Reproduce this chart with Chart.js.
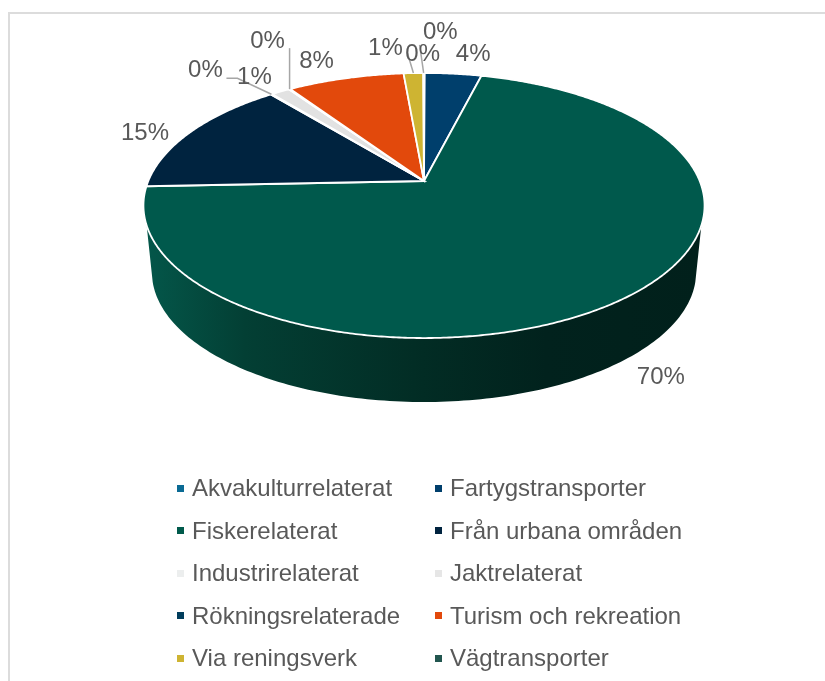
<!DOCTYPE html>
<html lang="sv">
<head>
<meta charset="utf-8">
<title>Diagram</title>
<script src="https://cdn.jsdelivr.net/npm/chart.js@4/dist/chart.umd.min.js"></script>
<style>
  html, body { margin: 0; padding: 0; background: #fff; overflow: hidden; }
  #wrap { position: relative; width: 825px; height: 681px; }
  #frame { position: absolute; left: 8px; top: 12px; width: 830px; height: 700px; border: 2px solid #dcdcdc; box-sizing: border-box; }
  canvas { position: absolute; left: 0; top: 0; }
  #legend { position: absolute; left: 177px; top: 467px; display: grid; grid-template-columns: 258px 250px; grid-auto-rows: 42.5px;
    font: 24px "Liberation Sans", Arial, sans-serif; color: #595959; }
  #legend div { display: flex; align-items: center; white-space: nowrap; }
  #legend i { display: inline-block; width: 7px; height: 7px; margin-right: 8px; }
</style>
</head>
<body>
<div id="wrap">
  <div id="frame"></div>
  <canvas id="myChart" width="825" height="681"></canvas>
  <div id="legend"></div>
</div>
<script>
const categories = [
  "Akvakulturrelaterat",
  "Fartygstransporter",
  "Fiskerelaterat",
  "Från urbana områden",
  "Industrirelaterat",
  "Jaktrelaterat",
  "Rökningsrelaterade",
  "Turism och rekreation",
  "Via reningsverk",
  "Vägtransporter"
];

const values = [0.05, 3.9, 70.4, 14.7, 0.1, 1.3, 0.1, 8.05, 1.35, 0.05];

const sliceColors = ["#0a6a94", "#003f6c", "#00594c", "#00233f", "#eceeee", "#e2e2e2", "#003d5c", "#e2490c", "#ceb432", "#22564f"];
const legendColors = ["#0a6a94", "#003f6c", "#005a4b", "#00233f", "#eceeee", "#e6e6e6", "#003d5c", "#e2490c", "#ceb432", "#22564f"];

// label position relative to the middle of the slice's rim
const labelOffsets = [[16, -41], [20, -19], [34, 80], [-45, 1], [-66, -24], [-26, -14], [-22, -48], [-29, -17], [-28, -25], [-1, -19]];
// leader lines, same reference point
const leaders = [null, null, null, null, [[-34, -16], [-45, -16]], null, [[0, -41]], null, [[-6, -20]], [[-4, -28]]];

// the pie is tilted with some perspective, so the far half looks shorter
const widthRatio = 2.154;
const tilt = 0.1849;
const wallTop = [109, 251];
const wallBottom = [105, 255];

function project(arc, deg) {
  const t = deg * Math.PI / 180;
  const u = Math.sin(t), v = Math.cos(t);
  const w = 1 + tilt * v;
  return {
    x: arc.x + arc.outerRadius * widthRatio * u / w,
    y: arc.y - arc.outerRadius * v / w
  };
}

function projectBottom(arc, deg) {
  const p = project(arc, deg);
  const midY = arc.y + arc.outerRadius * tilt / (1 - tilt * tilt);
  return {
    x: arc.x + (p.x - arc.x) * 0.97,
    y: midY + 66.5 + (p.y - midY) * 0.981
  };
}

const pie3d = {
  id: "pie3d",
  beforeDatasetDraw(chart, args) {
    const ctx = chart.ctx;
    const arcs = args.meta.data;
    const first = arcs[0];

    // front wall
    const grad = ctx.createLinearGradient(145, 0, 702, 0);
    grad.addColorStop(0, "#04574a");
    grad.addColorStop(0.18, "#033f34");
    grad.addColorStop(0.5, "#022c24");
    grad.addColorStop(0.72, "#01221d");
    grad.addColorStop(1, "#01201b");
    ctx.beginPath();
    for (let d = wallTop[0]; d <= wallTop[1]; d++) {
      const p = project(first, d);
      ctx.lineTo(p.x, p.y);
    }
    for (let d = wallBottom[1]; d >= wallBottom[0]; d--) {
      const p = projectBottom(first, d);
      ctx.lineTo(p.x, p.y);
    }
    ctx.closePath();
    ctx.fillStyle = grad;
    ctx.fill();

    // top face, angles come from the library's arcs
    arcs.forEach((arc) => {
      const from = arc.startAngle * 180 / Math.PI + 90;
      const to = arc.endAngle * 180 / Math.PI + 90;
      ctx.beginPath();
      ctx.moveTo(arc.x, arc.y);
      for (let d = from; d < to; d += 0.5) {
        const p = project(arc, d);
        ctx.lineTo(p.x, p.y);
      }
      const end = project(arc, to);
      ctx.lineTo(end.x, end.y);
      ctx.closePath();
      ctx.fillStyle = arc.options.backgroundColor;
      ctx.fill();
      ctx.strokeStyle = "#fff";
      ctx.lineWidth = 1.8;
      ctx.stroke();
    });

    // data labels and leaders
    ctx.font = '24px "Liberation Sans", Arial, sans-serif';
    ctx.textAlign = "center";
    ctx.textBaseline = "middle";
    arcs.forEach((arc, i) => {
      const mid = (arc.startAngle + arc.endAngle) / 2 * 180 / Math.PI + 90;
      const p = project(arc, mid);
      if (leaders[i]) {
        ctx.beginPath();
        ctx.moveTo(p.x, p.y);
        leaders[i].forEach((o) => ctx.lineTo(p.x + o[0], p.y + o[1]));
        ctx.strokeStyle = "#a6a6a6";
        ctx.lineWidth = 1.5;
        ctx.stroke();
      }
      ctx.fillStyle = "#595959";
      ctx.fillText(Math.round(values[i]) + "%", p.x + labelOffsets[i][0], p.y + labelOffsets[i][1]);
    });
    return false;
  }
};

function createChart() {
  const ctx = document.getElementById("myChart");
  new Chart(ctx, {
    type: "pie",
    data: {
      labels: categories,
      datasets: [{ data: values, backgroundColor: sliceColors, borderWidth: 0 }]
    },
    options: {
      responsive: false,
      animation: false,
      layout: { padding: { left: 296, right: 273, top: 53, bottom: 372 } },
      plugins: { legend: { display: false }, tooltip: { enabled: false } }
    },
    plugins: [pie3d]
  });

  const legend = document.getElementById("legend");
  categories.forEach((name, i) => {
    const row = document.createElement("div");
    const box = document.createElement("i");
    box.style.background = legendColors[i];
    row.appendChild(box);
    row.appendChild(document.createTextNode(name));
    legend.appendChild(row);
  });
}

document.addEventListener("DOMContentLoaded", createChart);
</script>
</body>
</html>
